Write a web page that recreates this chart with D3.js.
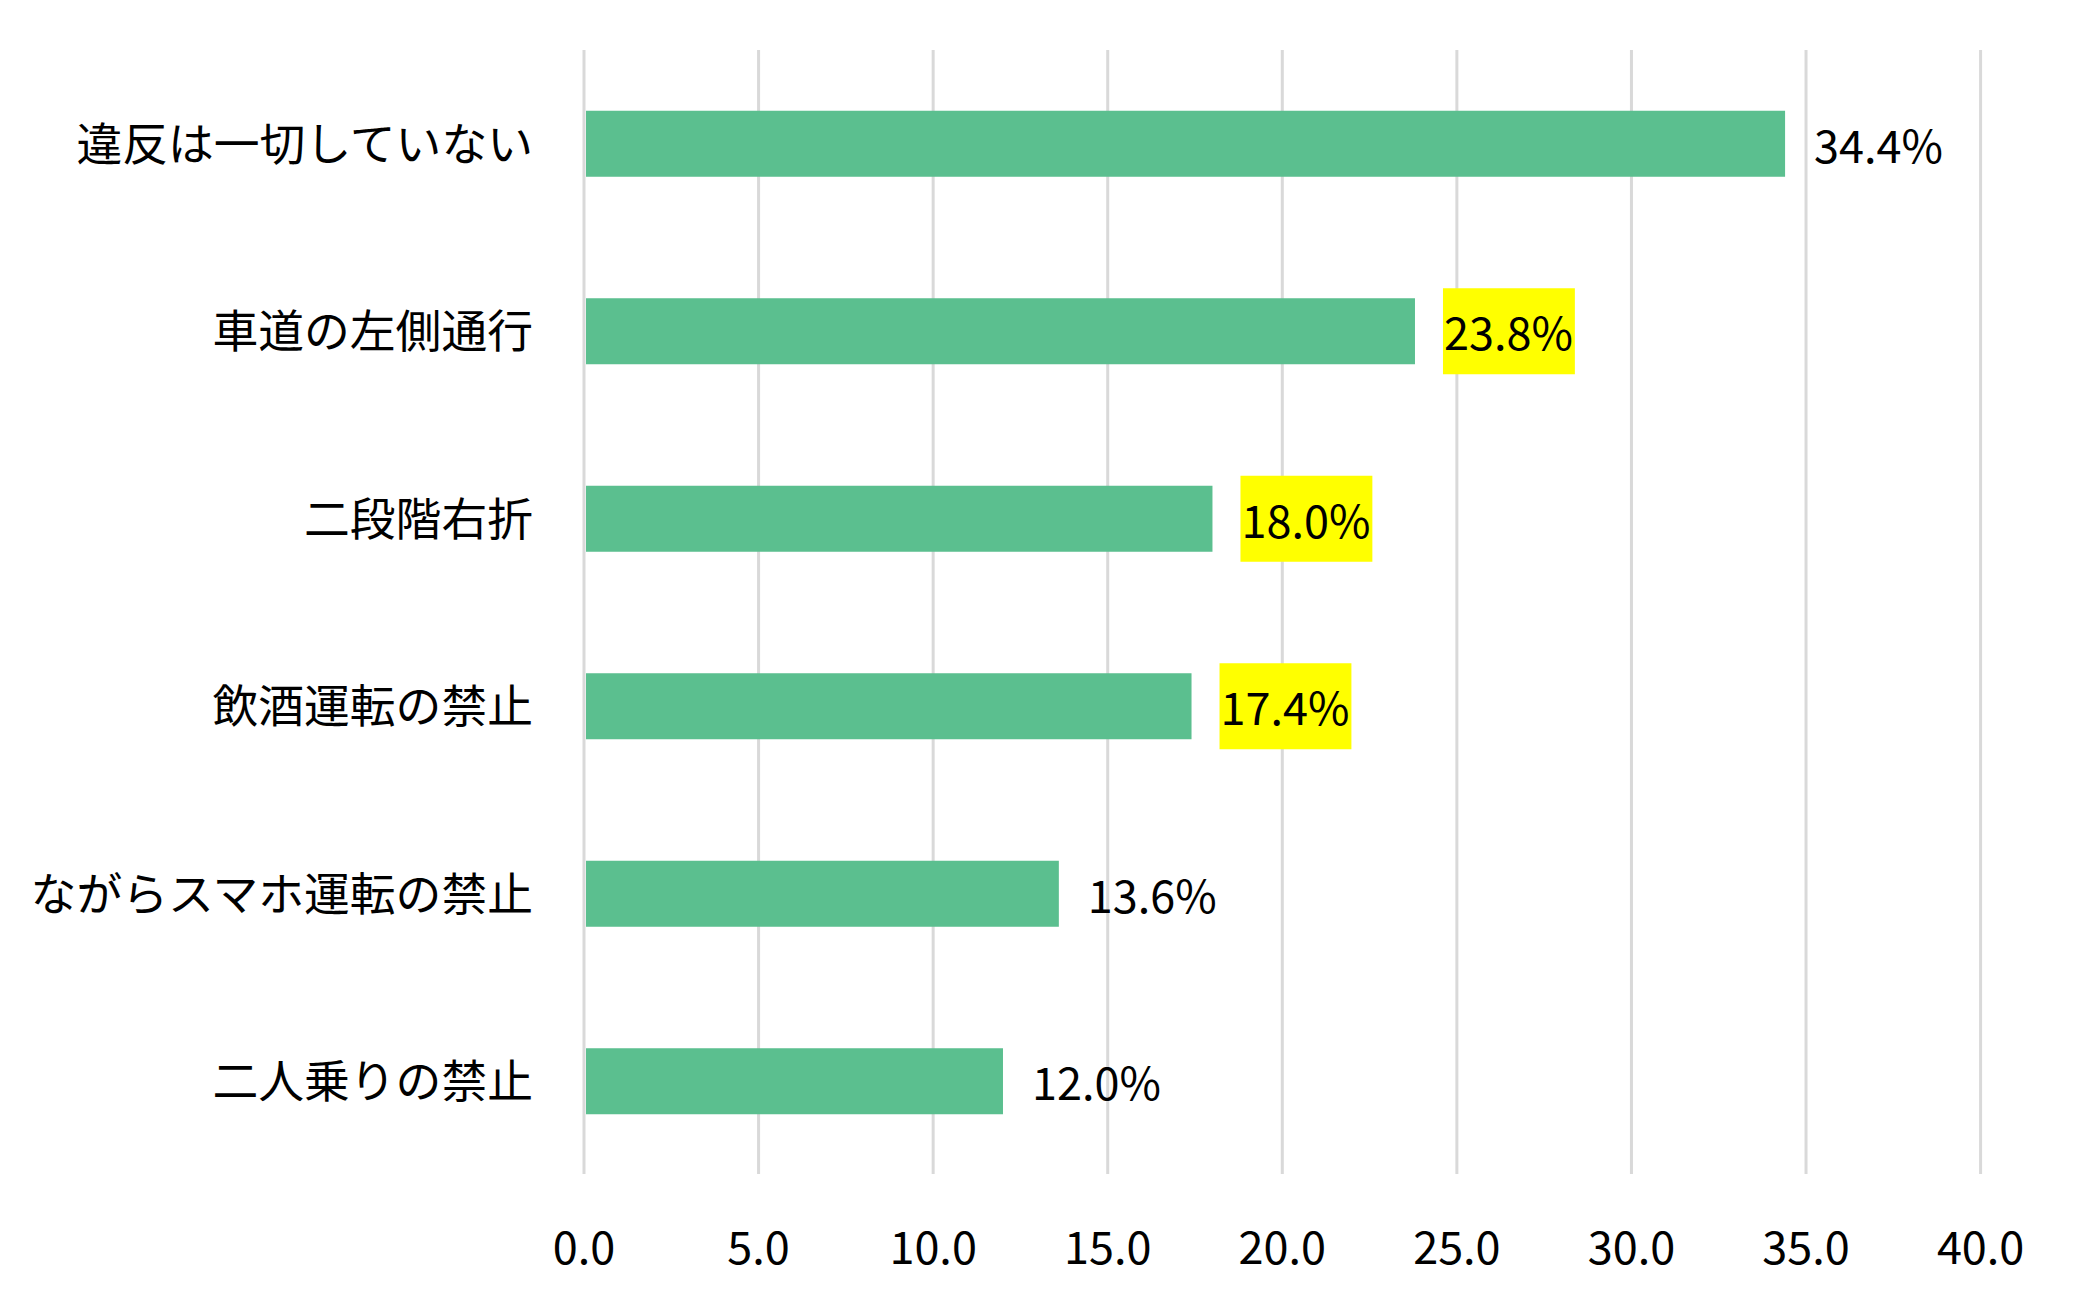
<!DOCTYPE html>
<html><head><meta charset="utf-8">
<script src="https://cdn.jsdelivr.net/npm/d3@7"></script>
<style>
html,body{margin:0;padding:0;background:#fff;}
svg{display:block;}
text{font-family:"Noto Sans CJK JP","Noto Sans",sans-serif;fill:#000;}
</style></head>
<body><svg id="chart" width="2076" height="1306"></svg>
<script>
const categories = ["違反は一切していない","車道の左側通行","二段階右折","飲酒運転の禁止","ながらスマホ運転の禁止","二人乗りの禁止"];
const values = [34.4, 23.8, 18.0, 17.4, 13.6, 12.0];
const highlighted = [false, true, true, true, false, false];
const xTicks = [0,5,10,15,20,25,30,35,40];

const svg = d3.select("#chart");
const fs = 45;
const x = d3.scaleLinear().domain([0,40]).range([584,1980.6]);
const y = d3.scaleBand().domain(categories).range([50,1175]).paddingInner(0.648).paddingOuter(0.324);

// gridlines
svg.append("g").selectAll("line").data(xTicks).join("line")
  .attr("x1",d=>x(d)).attr("x2",d=>x(d)).attr("y1",50).attr("y2",1174)
  .attr("stroke","#d9d9d9").attr("stroke-width",3);

// x tick labels
svg.append("g").selectAll("text").data(xTicks).join("text")
  .attr("x",d=>x(d)).attr("y",1264).attr("text-anchor","middle")
  .style("font-size",fs+"px").text(d=>d.toFixed(1));

// bars
svg.append("g").selectAll("rect").data(values).join("rect")
  .attr("x",x(0)+2).attr("y",(d,i)=>y(categories[i]))
  .attr("width",d=>x(d)-x(0)-2).attr("height",y.bandwidth())
  .attr("fill","#5bbf8f");

// category labels
svg.append("g").selectAll("text").data(categories).join("text")
  .attr("x",533).attr("y",d=>y(d)+y.bandwidth()/2+17)
  .attr("text-anchor","end").style("font-size","45.8px").text(d=>d);

// value labels
const lg = svg.append("g");
values.forEach((v,i)=>{
  const cy = y(categories[i])+y.bandwidth()/2;
  const g = lg.append("g");
  const t = g.append("text").attr("x",x(v)+29).attr("y",cy+19)
    .style("font-size",fs+"px").text(v.toFixed(1)+"%");
  if(highlighted[i]){
    const bb = t.node().getBBox();
    g.insert("rect","text").attr("x",bb.x-1).attr("y",cy-43)
      .attr("width",bb.width+3).attr("height",86).attr("fill","#ffff00");
  }
});
</script></body></html>
